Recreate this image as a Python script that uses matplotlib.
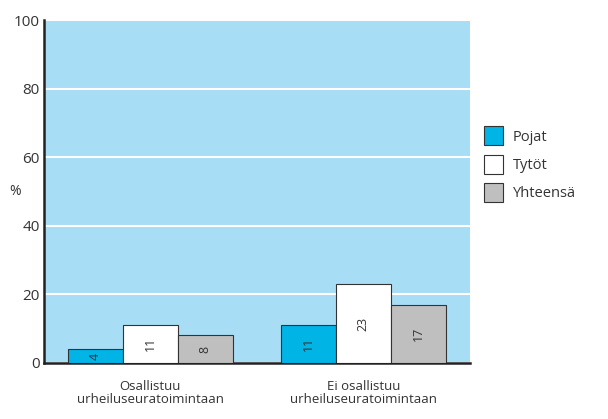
import numpy as np
import matplotlib.pyplot as plt

# ============ DATA ============
categories = ["Osallistuu\nurheiluseuratoimintaan", "Ei osallistuu\nurheiluseuratoimintaan"]
series_names = ["Pojat", "Tytöt", "Yhteensä"]
pojat = [4, 11]
tytot = [11, 23]
yhteensa = [8, 17]
yticks = [0, 20, 40, 60, 80, 100]

colors = ["#00b4e6", "#ffffff", "#bfbfbf"]
plt.rcParams['font.family'] = ['Open Sans', 'DejaVu Sans']

fig = plt.figure(figsize=(6.08, 4.19), dpi=100)
ax = fig.add_axes([0.0724, 0.134, 0.7, 0.818])
ax.set_facecolor("#a8ddf6")

x = np.arange(len(categories))
w = 0.258
for i, (vals, name) in enumerate(zip([pojat, tytot, yhteensa], series_names)):
    pos = x + (i - 1) * w
    ax.bar(pos, vals, width=w, color=colors[i], edgecolor="#333333",
           linewidth=0.8, label=name, zorder=3)
    for p, v in zip(pos, vals):
        ax.text(p, v / 2, str(v), rotation=90, ha="center", va="center",
                fontsize=9, color="#333333", zorder=4)

ax.set_xlim(-0.5, 1.5)
ax.set_ylim(0, 100)
ax.set_yticks(yticks)
ax.yaxis.grid(True, color="white", linewidth=1.5, zorder=1)
ax.set_axisbelow(True)
ax.tick_params(axis="y", length=0, labelsize=11, colors="#333333", pad=3)
ax.tick_params(axis="x", length=0, labelsize=9.5, colors="#333333", pad=12)
ax.set_xticks(x)
ax.set_xticklabels(categories, linespacing=1.05)

for s in ["top", "right"]:
    ax.spines[s].set_visible(False)
ax.spines["left"].set_linewidth(1.8)
ax.spines["bottom"].set_linewidth(1.8)
ax.spines["left"].set_color("#222222")
ax.spines["bottom"].set_color("#222222")

ax.set_ylabel("%", rotation=0, fontsize=10, color="#333333", va="center")
ax.yaxis.set_label_coords(-0.068, 0.5)

# legend squares ~19px
leg = ax.legend(loc="upper left", bbox_to_anchor=(1.033, 0.69), frameon=False,
                fontsize=10.5, handlelength=1.3, handleheight=1.62,
                handletextpad=0.7, labelspacing=0.65, borderaxespad=0,
                borderpad=0)
for t in leg.get_texts():
    t.set_color("#333333")

plt.savefig("out.png", dpi=100)
